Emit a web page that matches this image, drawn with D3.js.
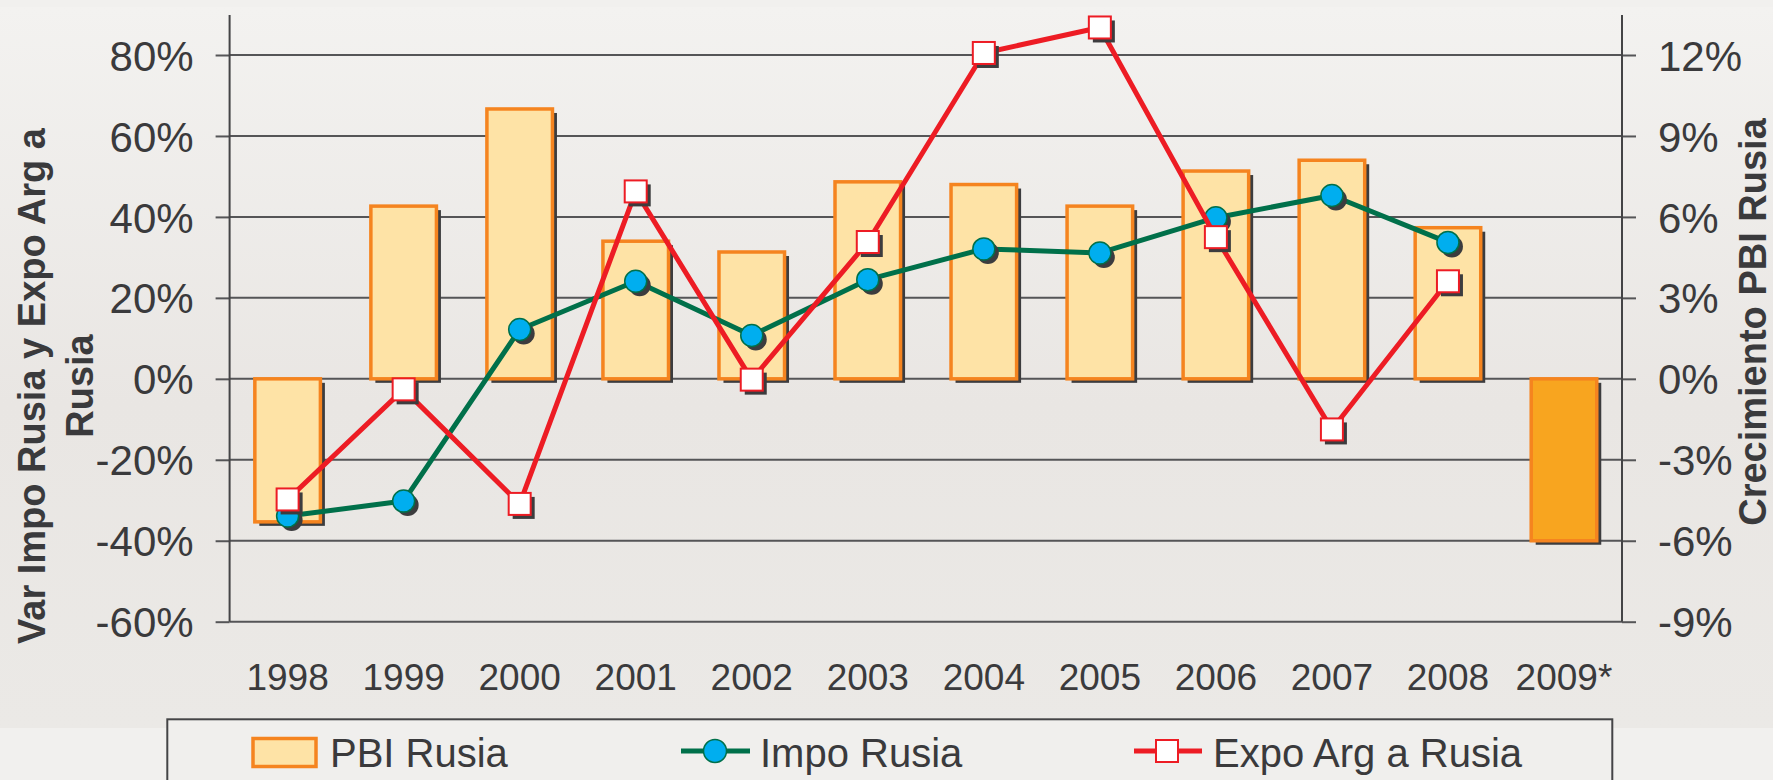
<!DOCTYPE html>
<html>
<head>
<meta charset="utf-8">
<script src="https://cdn.jsdelivr.net/npm/d3@7"></script>
<style>
  body { margin: 0; background: #f1f0ee; }
  svg { display: block; }
  text { font-family: "Liberation Sans", Arial, sans-serif; fill: #3a3a3c; }
</style>
</head>
<body>
<div id="chart"></div>
<script>

// data
var years = ["1998", "1999", "2000", "2001", "2002", "2003", "2004", "2005", "2006", "2007", "2008", "2009*"];
var pbiRusia = [-5.3, 6.4, 10.0, 5.1, 4.7, 7.3, 7.2, 6.4, 7.7, 8.1, 5.6, -6.0];
var impoRusia = [-33.9, -30.2, 12.2, 24.1, 10.7, 24.5, 32.1, 31.1, 39.8, 45.3, 33.7];
var expoArg = [-29.8, -2.6, -30.9, 46.3, -0.2, 33.8, 80.5, 86.8, 35.0, -12.5, 24.1];
var leftTicks = [-60, -40, -20, 0, 20, 40, 60, 80];
var rightTicks = [-9, -6, -3, 0, 3, 6, 9, 12];
var legendLabels = ["PBI Rusia", "Impo Rusia", "Expo Arg a Rusia"];

var W = 1773, H = 780;
// plot box
var pLeft = 229.6, pRight = 1622, pTop = 55, pBottom = 621.7;
var shadow = "#3c3c3e";

var svg = d3.select("#chart")
  .append("svg")
  .attr("width", W)
  .attr("height", H);

// background gradient
var grad = svg.append("defs").append("linearGradient")
  .attr("id", "bg")
  .attr("x1", 0).attr("y1", 0).attr("x2", 0).attr("y2", 1);
grad.append("stop").attr("offset", 0).attr("stop-color", "#f3f2f0");
grad.append("stop").attr("offset", 0.55).attr("stop-color", "#e9e6e3");
grad.append("stop").attr("offset", 1).attr("stop-color", "#ebe9e6");

svg.append("rect").attr("width", W).attr("height", H).attr("fill", "#f1f0ee");
svg.append("rect")
  .attr("x", 0).attr("y", 7)
  .attr("width", W).attr("height", 721)
  .attr("fill", "url(#bg)");

// scales
var x = d3.scaleBand()
  .domain(years)
  .range([pLeft, pRight])
  .paddingInner(0.435)
  .paddingOuter(0.2175);

var yL = d3.scaleLinear().domain([-60, 80]).range([pBottom, pTop]);
var yR = d3.scaleLinear().domain([-9, 12]).range([pBottom, pTop]);

function cx(i) { return x(years[i]) + x.bandwidth() / 2; }

// gridlines
svg.append("g")
  .selectAll("line")
  .data(leftTicks)
  .enter()
  .append("line")
  .attr("x1", pLeft).attr("x2", pRight)
  .attr("y1", function (d) { return yL(d); })
  .attr("y2", function (d) { return yL(d); })
  .attr("stroke", "#555557")
  .attr("stroke-width", 2);

// bars (right axis) with drop shadow
var bars = svg.append("g");
bars.selectAll(".shadow")
  .data(pbiRusia)
  .enter()
  .append("rect")
  .attr("class", "shadow")
  .attr("x", function (d, i) { return x(years[i]) + 4.5; })
  .attr("y", function (d) { return Math.min(yR(d), yR(0)) + 4; })
  .attr("width", x.bandwidth())
  .attr("height", function (d) { return Math.abs(yR(d) - yR(0)); })
  .attr("fill", shadow);

bars.selectAll(".bar")
  .data(pbiRusia)
  .enter()
  .append("rect")
  .attr("class", "bar")
  .attr("x", function (d, i) { return x(years[i]); })
  .attr("y", function (d) { return Math.min(yR(d), yR(0)); })
  .attr("width", x.bandwidth())
  .attr("height", function (d) { return Math.abs(yR(d) - yR(0)); })
  .attr("fill", function (d, i) { return i == years.length - 1 ? "#f8a51f" : "#fee3a6"; })
  .attr("stroke", "#f5841f")
  .attr("stroke-width", 3.5);

// left axis
var axL = svg.append("g")
  .attr("transform", "translate(" + pLeft + ",0)")
  .call(d3.axisLeft(yL).tickValues(leftTicks).tickSize(14).tickPadding(22)
    .tickFormat(function (d) { return d + "%"; }));
axL.select(".domain").remove();
axL.selectAll(".tick line").attr("stroke", "#555557").attr("stroke-width", 2);
axL.selectAll("text")
  .style("font-size", "42px")
  .attr("fill", "#3a3a3c")
  .attr("dy", "0.36em");

// right axis
var axR = svg.append("g")
  .attr("transform", "translate(" + pRight + ",0)")
  .call(d3.axisRight(yR).tickValues(rightTicks).tickSize(14).tickPadding(22)
    .tickFormat(function (d) { return d + "%"; }));
axR.select(".domain").remove();
axR.selectAll(".tick line").attr("stroke", "#555557").attr("stroke-width", 2);
axR.selectAll("text")
  .style("font-size", "42px")
  .attr("fill", "#3a3a3c")
  .attr("dy", "0.36em");

// vertical axis lines
svg.append("line")
  .attr("x1", pLeft).attr("x2", pLeft).attr("y1", 15).attr("y2", pBottom)
  .attr("stroke", "#444446").attr("stroke-width", 2);
svg.append("line")
  .attr("x1", pRight).attr("x2", pRight).attr("y1", 15).attr("y2", pBottom)
  .attr("stroke", "#444446").attr("stroke-width", 2);

// x labels
var axX = svg.append("g")
  .attr("transform", "translate(0," + pBottom + ")")
  .call(d3.axisBottom(x).tickSize(0));
axX.select(".domain").remove();
axX.selectAll("text")
  .style("font-size", "37px")
  .attr("fill", "#3a3a3c")
  .attr("y", 68)
  .attr("dy", 0);

// Impo Rusia line
var lineL = d3.line()
  .x(function (d, i) { return cx(i); })
  .y(function (d) { return yL(d); });

svg.append("path")
  .datum(impoRusia)
  .attr("fill", "none")
  .attr("stroke", "#00704a")
  .attr("stroke-width", 5)
  .attr("stroke-linejoin", "round")
  .attr("d", lineL);

var impoG = svg.append("g");
impoG.selectAll(".sh")
  .data(impoRusia)
  .enter()
  .append("circle")
  .attr("class", "sh")
  .attr("cx", function (d, i) { return cx(i) + 4; })
  .attr("cy", function (d) { return yL(d) + 4; })
  .attr("r", 11)
  .attr("fill", shadow);
impoG.selectAll(".dot")
  .data(impoRusia)
  .enter()
  .append("circle")
  .attr("class", "dot")
  .attr("cx", function (d, i) { return cx(i); })
  .attr("cy", function (d) { return yL(d); })
  .attr("r", 11)
  .attr("fill", "#00aeef")
  .attr("stroke", "#00704a")
  .attr("stroke-width", 1.5);

// Expo Arg a Rusia line
svg.append("path")
  .datum(expoArg)
  .attr("fill", "none")
  .attr("stroke", "#ed1c24")
  .attr("stroke-width", 5)
  .attr("stroke-linejoin", "round")
  .attr("d", lineL);

var expoG = svg.append("g");
expoG.selectAll(".sh")
  .data(expoArg)
  .enter()
  .append("rect")
  .attr("class", "sh")
  .attr("x", function (d, i) { return cx(i) - 11 + 4; })
  .attr("y", function (d) { return yL(d) - 11 + 4; })
  .attr("width", 22).attr("height", 22)
  .attr("fill", shadow);
expoG.selectAll(".sq")
  .data(expoArg)
  .enter()
  .append("rect")
  .attr("class", "sq")
  .attr("x", function (d, i) { return cx(i) - 11; })
  .attr("y", function (d) { return yL(d) - 11; })
  .attr("width", 22).attr("height", 22)
  .attr("fill", "#ffffff")
  .attr("stroke", "#ed1c24")
  .attr("stroke-width", 2);

// axis titles
svg.append("text")
  .attr("transform", "translate(45,386) rotate(-90)")
  .attr("text-anchor", "middle")
  .style("font-size", "38px").style("font-weight", "bold")
  .text("Var Impo Rusia y Expo Arg a");
svg.append("text")
  .attr("transform", "translate(93,386) rotate(-90)")
  .attr("text-anchor", "middle")
  .style("font-size", "38px").style("font-weight", "bold")
  .text("Rusia");
svg.append("text")
  .attr("transform", "translate(1766,322) rotate(-90)")
  .attr("text-anchor", "middle")
  .style("font-size", "38px").style("font-weight", "bold")
  .text("Crecimiento PBI Rusia");

// legend
var lg = svg.append("g");
lg.append("rect")
  .attr("x", 167.3).attr("y", 719.3)
  .attr("width", 1445).attr("height", 90)
  .attr("fill", "#f0efed")
  .attr("stroke", "#444446")
  .attr("stroke-width", 2);

var ly = 751;
lg.append("rect")
  .attr("x", 253).attr("y", 738.5).attr("width", 63).attr("height", 28)
  .attr("fill", "#fee3a6").attr("stroke", "#f5841f").attr("stroke-width", 3.5);

lg.append("line")
  .attr("x1", 681).attr("x2", 750).attr("y1", ly).attr("y2", ly)
  .attr("stroke", "#00704a").attr("stroke-width", 5);
lg.append("circle")
  .attr("cx", 715).attr("cy", ly).attr("r", 11.5)
  .attr("fill", "#00aeef").attr("stroke", "#00704a").attr("stroke-width", 1.5);

lg.append("line")
  .attr("x1", 1134).attr("x2", 1202).attr("y1", ly).attr("y2", ly)
  .attr("stroke", "#ed1c24").attr("stroke-width", 5);
lg.append("rect")
  .attr("x", 1156).attr("y", ly - 11).attr("width", 22).attr("height", 22)
  .attr("fill", "#ffffff").attr("stroke", "#ed1c24").attr("stroke-width", 2);

var legendX = [330, 760, 1213];
lg.selectAll(".lt")
  .data(legendLabels)
  .enter()
  .append("text")
  .attr("class", "lt")
  .attr("x", function (d, i) { return legendX[i]; })
  .attr("y", 767)
  .style("font-size", "40px")
  .text(function (d) { return d; });

</script>
</body>
</html>
